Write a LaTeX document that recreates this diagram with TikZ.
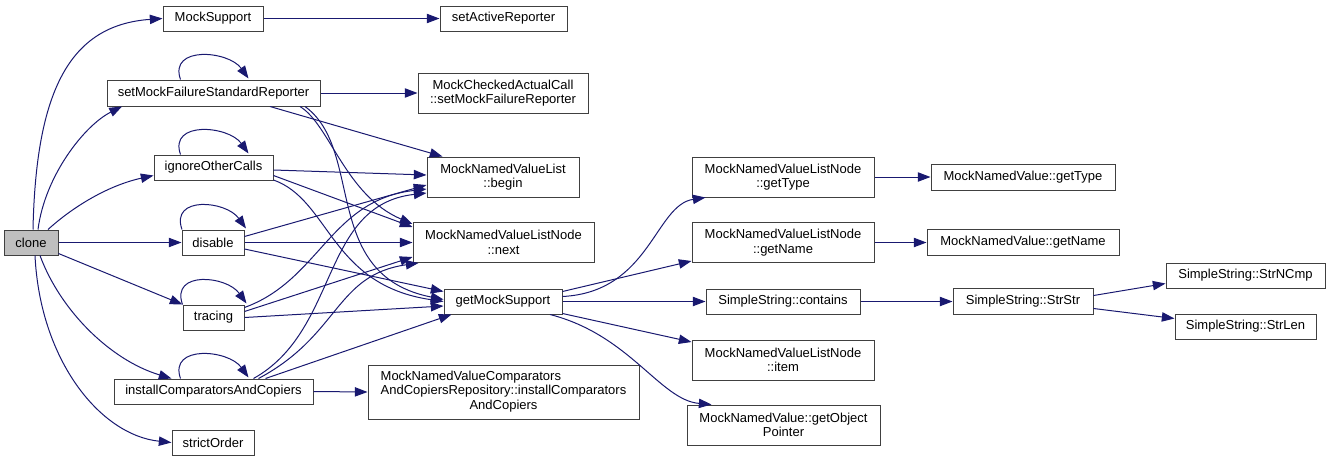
\documentclass[tikz,border=0pt]{standalone}
\usepackage{fontspec}
\setmainfont{Liberation Sans}
\usetikzlibrary{arrows.meta,calc}
\definecolor{edgeblue}{HTML}{191970}
\definecolor{boxline}{HTML}{404040}
\definecolor{hl}{HTML}{BFBFBF}
\tikzset{
  nd/.style={draw=boxline, line width=0.75pt, fill=white, inner sep=0pt, align=center,
    font=\fontsize{9.75}{10.8}\selectfont},
  sz/.style 2 args={minimum width=#1*0.75pt, minimum height=#2*0.75pt},
  ed/.style={draw=edgeblue, line width=0.75pt, -{Triangle[length=9.5pt,width=7pt]}}
}
\begin{document}
\begin{tikzpicture}[x=0.75pt,y=-0.75pt]
\useasboundingbox (0,0) rectangle (1331,461);
% nodes
\node[nd,sz={54}{25},fill=hl] (clone) at (31,242.5) {clone};
\node[nd,sz={100}{25}] (mocksupport) at (213,18.5) {MockSupport};
\node[nd,sz={127}{25}] (setactive) at (503.5,18.5) {setActiveReporter};
\node[nd,sz={213}{26}] (setmfsr) at (213.5,93) {setMockFailureStandardReporter};
\node[nd,sz={170}{40}] (mcac) at (503,93) {MockCheckedActualCall\\::setMockFailureReporter};
\node[nd,sz={119}{25}] (ignore) at (213.5,167.5) {ignoreOtherCalls};
\node[nd,sz={152}{40}] (begin) at (503,177) {MockNamedValueList\\::begin};
\node[nd,sz={62}{25}] (disable) at (213,242.5) {disable};
\node[nd,sz={181}{40}] (next) at (503.5,242.5) {MockNamedValueListNode\\::next};
\node[nd,sz={61}{25}] (tracing) at (213.5,317.5) {tracing};
\node[nd,sz={118}{25}] (gms) at (503,301.5) {getMockSupport};
\node[nd,sz={199}{25}] (installcac) at (213.5,391.5) {installComparatorsAndCopiers};
\node[nd,sz={271}{54}] (repo) at (503.5,392) {\begin{tabular}{@{}l@{}}MockNamedValueComparators\\AndCopiersRepository::installComparators\\\multicolumn{1}{@{}c@{}}{AndCopiers}\end{tabular}};
\node[nd,sz={82}{25}] (strict) at (213,442.5) {strictOrder};
\node[nd,sz={182}{40}] (gettype) at (783,177) {MockNamedValueListNode\\::getType};
\node[nd,sz={184}{26}] (mnvgettype) at (1023,177) {MockNamedValue::getType};
\node[nd,sz={182}{40}] (getname) at (783,242.5) {MockNamedValueListNode\\::getName};
\node[nd,sz={192}{26}] (mnvgetname) at (1023,242.5) {MockNamedValue::getName};
\node[nd,sz={154}{25}] (contains) at (783,301.5) {SimpleString::contains};
\node[nd,sz={140}{26}] (strstr) at (1023,301.5) {SimpleString::StrStr};
\node[nd,sz={159}{25}] (strncmp) at (1245.5,275.5) {SimpleString::StrNCmp};
\node[nd,sz={141}{25}] (strlen) at (1245.5,326.5) {SimpleString::StrLen};
\node[nd,sz={182}{40}] (item) at (783,360) {MockNamedValueListNode\\::item};
\node[nd,sz={193}{40}] (gop) at (783.5,425) {MockNamedValue::getObject\\Pointer};
% edges from clone
\draw[ed] ($(clone.north)+(2,0)$) .. controls (36,90) and (70,25) .. (mocksupport.west);
\draw[ed] ($(clone.north)+(7,0)$) .. controls (45,175) and (85,125) .. ($(setmfsr.south)+(-91.5,0)$);
\draw[ed] ($(clone.north)+(17,0)$) .. controls (75,205) and (110,185) .. ($(ignore.west)+(0,8)$);
\draw[ed] (clone.east) -- (disable.west);
\draw[ed] ($(clone.south east)+(0,-2)$) -- (tracing.north west);
\draw[ed] ($(clone.south)+(9,0)$) .. controls (60,310) and (110,360) .. ($(installcac.north west)+(58,0)$);
\draw[ed] ($(clone.south)+(4,0)$) .. controls (40,360) and (100,435) .. (strict.west);
% simple straight
\draw[ed] (mocksupport.east) -- (setactive.west);
\draw[ed] (setmfsr.east) -- (mcac.west);
\draw[ed] (installcac.east) -- (repo.west);
% self loops
\draw[ed] ($(setmfsr.north)+(-33,0)$) .. controls +(-12,-34) and +(-20,-28) .. ($(setmfsr.north)+(35,-1)$);
\draw[ed] ($(ignore.north)+(-33,0)$) .. controls +(-12,-34) and +(-20,-28) .. ($(ignore.north)+(35,-1)$);
\draw[ed] ($(disable.north)+(-31,0)$) .. controls +(-12,-34) and +(-20,-28) .. ($(disable.north)+(33,-1)$);
\draw[ed] ($(tracing.north)+(-31,0)$) .. controls +(-12,-34) and +(-20,-28) .. ($(tracing.north)+(33,-1)$);
\draw[ed] ($(installcac.north)+(-33,0)$) .. controls +(-12,-34) and +(-20,-28) .. ($(installcac.north)+(35,-1)$);
% setMockFailureStandardReporter
\draw[ed] ($(setmfsr.south)+(56.5,0)$) -- ($(begin.north west)+(16,0)$);
\draw[ed] ($(setmfsr.south)+(86.5,0)$) .. controls (330,125) and (345,195) .. ($(next.north west)+(0,2)$);
\draw[ed] ($(setmfsr.south)+(91.5,0)$) .. controls (365,150) and (320,275) .. ($(gms.west)+(0,-2)$);
% ignoreOtherCalls
\draw[ed] ($(ignore.east)+(0,2.5)$) -- ($(begin.west)+(0,-2)$);
\draw[ed] ($(ignore.east)+(0,8)$) -- ($(next.north west)+(0,5)$);
\draw[ed] ($(ignore.south east)+(0,-0.5)$) .. controls (330,200) and (330,285) .. (gms.west);
% disable
\draw[ed] ($(disable.east)+(0,-6)$) -- ($(begin.west)+(0,8)$);
\draw[ed] (disable.east) -- (next.west);
\draw[ed] ($(disable.east)+(0,6.5)$) -- ($(gms.north west)+(0,3)$);
% tracing
\draw[ed] ($(tracing.east)+(0,-10)$) .. controls (320,280) and (330,200) .. ($(begin.west)+(0,12)$);
\draw[ed] ($(tracing.east)+(0,-6)$) -- ($(next.south west)+(0,-6)$);
\draw[ed] (tracing.east) -- ($(gms.west)+(0,4.5)$);
% installComparatorsAndCopiers
\draw[ed] ($(installcac.north)+(40,0)$) .. controls (340,330) and (320,205) .. ($(begin.west)+(0,16)$);
\draw[ed] ($(installcac.north)+(45,0)$) .. controls (340,335) and (335,275) .. ($(next.south west)+(6,0)$);
\draw[ed] ($(installcac.north)+(52,0)$) -- ($(gms.south west)+(8,0)$);
% getMockSupport
\draw[ed] ($(gms.east)+(0,-5)$) .. controls (650,292) and (655,205) .. ($(gettype.south west)+(14,0)$);
\draw[ed] ($(gms.east)+(0,-10)$) -- ($(getname.south west)+(0,-2)$);
\draw[ed] (gms.east) -- (contains.west);
\draw[ed] ($(gms.south east)+(0,-1)$) -- ($(item.west)+(0,-18)$);
\draw[ed] ($(gms.south)+(47,0)$) .. controls (630,335) and (660,400) .. ($(gop.north west)+(25,0)$);
% right side
\draw[ed] (gettype.east) -- (mnvgettype.west);
\draw[ed] (getname.east) -- (mnvgetname.west);
\draw[ed] (contains.east) -- (strstr.west);
\draw[ed] ($(strstr.east)+(0,-6)$) -- ($(strncmp.west)+(0,8)$);
\draw[ed] ($(strstr.east)+(0,7)$) -- ($(strlen.west)+(0,-8)$);
\end{tikzpicture}
\end{document}
